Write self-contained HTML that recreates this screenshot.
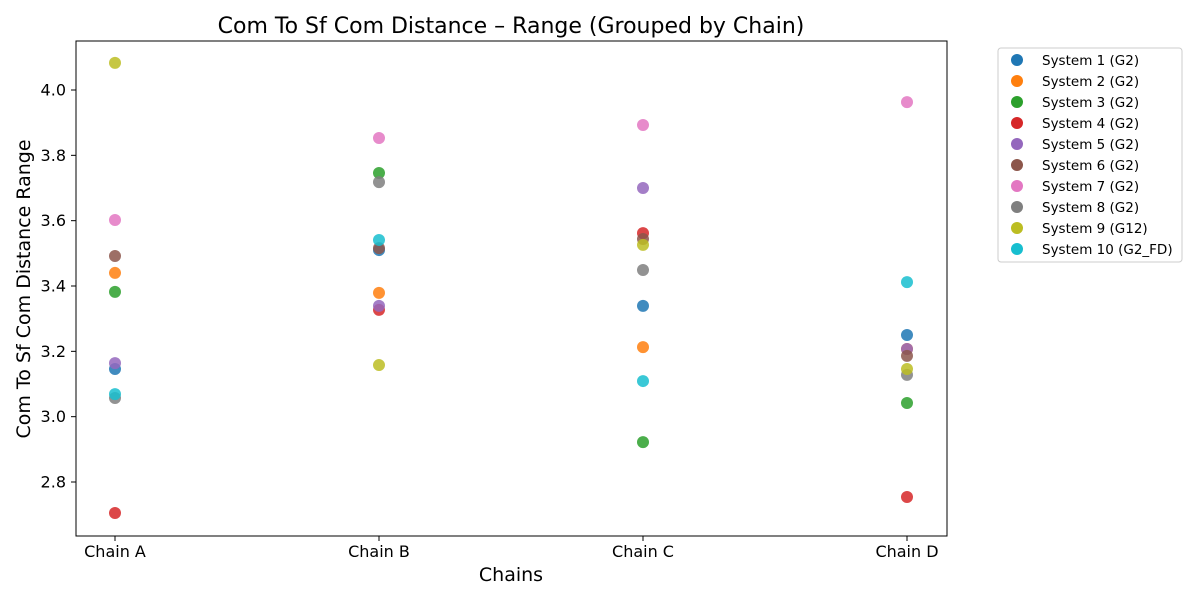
<!DOCTYPE html>
<html><head><meta charset="utf-8"><style>
body{margin:0;background:#fff;font-family:"Liberation Sans","DejaVu Sans",sans-serif}
svg text{font-family:"DejaVu Sans","Liberation Sans",sans-serif}
</style></head><body>
<svg id="chart" width="1200" height="600" viewBox="0 0 1200 600">
<rect width="1200" height="600" fill="#fff"/>
<text x="511" y="33" font-size="22" text-anchor="middle">Com To Sf Com Distance – Range (Grouped by Chain)</text>
<g id="grid"></g>
<g id="marks"></g>
<rect x="76" y="41" width="871" height="495" fill="none" stroke="#000" stroke-width="1"/>
<text x="511" y="581" font-size="19" text-anchor="middle">Chains</text>
<text transform="translate(30,289) rotate(-90)" font-size="19" text-anchor="middle">Com To Sf Com Distance Range</text>
<g id="legend"></g>
</svg>
<script>
const categories=["Chain A","Chain B","Chain C","Chain D"];
const seriesNames=["System 1 (G2)","System 2 (G2)","System 3 (G2)","System 4 (G2)","System 5 (G2)","System 6 (G2)","System 7 (G2)","System 8 (G2)","System 9 (G12)","System 10 (G2_FD)"];
const colors=["#1f77b4","#ff7f0e","#2ca02c","#d62728","#9467bd","#8c564b","#e377c2","#7f7f7f","#bcbd22","#17becf"];
const s1=[3.146,3.51,3.339,3.25];
const s2=[3.44,3.379,3.213,3.207];
const s3=[3.382,3.746,2.922,3.042];
const s4=[2.705,3.327,3.562,2.754];
const s5=[3.164,3.339,3.70,3.207];
const s6=[3.492,3.516,3.544,3.186];
const s7=[3.602,3.853,3.893,3.963];
const s8=[3.057,3.718,3.449,3.128];
const s9=[4.083,3.158,3.526,3.146];
const s10=[3.069,3.541,3.109,3.412];
const yTicks=[2.8,3.0,3.2,3.4,3.6,3.8,4.0];
const series=[s1,s2,s3,s4,s5,s6,s7,s8,s9,s10];
const NS="http://www.w3.org/2000/svg";
const xs=i=>115+i*264;
const ys=v=>90+(4.0-v)*326.67;
function mk(tag,attrs,parent,txt){const e=document.createElementNS(NS,tag);for(const k in attrs)e.setAttribute(k,attrs[k]);if(txt!==undefined)e.textContent=txt;parent.appendChild(e);return e;}
const grid=document.getElementById('grid');
yTicks.forEach(t=>{
  const y=ys(t);
  const l=mk('line',{x1:71,x2:76,y1:y,y2:y,stroke:'#000'},grid);
  
  
  const tx=mk('text',{x:66,y:y+5.5,'font-size':16,'text-anchor':'end'},grid,t.toFixed(1));
  
  
});
categories.forEach((c,i)=>{
  const x=xs(i);
  const l=mk('line',{x1:x,x2:x,y1:536,y2:541,stroke:'#000'},grid);
  
  
  const tx=mk('text',{x:x,y:557,'font-size':16,'text-anchor':'middle'},grid,c);
  
  
});
const marks=document.getElementById('marks');
series.forEach((s,k)=>{
  s.forEach((v,i)=>{
    const c=mk('circle',{cx:xs(i),cy:ys(v),r:6,fill:colors[k],'fill-opacity':0.85},marks);
    
    
  });
});
const lg=document.getElementById('legend');
const box=mk('rect',{x:998,y:48,width:184,height:214,rx:3,fill:'#fff',stroke:'#ccc'},lg);


seriesNames.forEach((n,k)=>{
  const y=60+k*21;
  const c=mk('circle',{cx:1017,cy:y,r:6,fill:colors[k]},lg);
  
  
  const t=mk('text',{x:1042,y:y+5,'font-size':13.5},lg,n);
  
  
});
</script>
</body></html>
